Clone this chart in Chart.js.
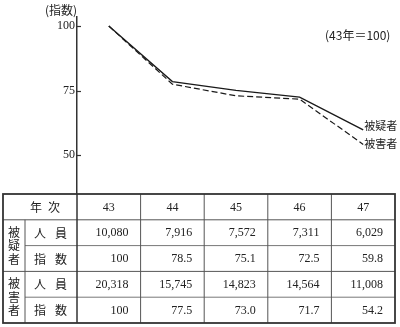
<!DOCTYPE html>
<html>
<head>
<meta charset="utf-8">
<script src="https://cdn.jsdelivr.net/npm/chart.js@4/dist/chart.umd.min.js"></script>
<style>
  html, body { margin: 0; padding: 0; background: #fff; }
  #wrap { width: 400px; height: 327px; }
</style>
</head>
<body>
<div id="wrap"><canvas id="c" width="400" height="327"></canvas></div>
<script>
// 年次（昭和）
const years = ['43', '44', '45', '46', '47'];
// 被疑者：人員・指数
const suspectCount = [10080, 7916, 7572, 7311, 6029];
const suspectIndex = [100, 78.5, 75.1, 72.5, 59.8];
// 被害者：人員・指数
const victimCount = [20318, 15745, 14823, 14564, 11008];
const victimIndex = [100, 77.5, 73.0, 71.7, 54.2];
// 縦軸の目盛
const yTicks = [50, 75, 100];
const seriesNames = ['被疑者', '被害者'];

const SERIF = "'Liberation Serif', 'DejaVu Serif', 'Noto Sans CJK JP', serif";
const JP = "'Noto Sans CJK JP', 'Liberation Serif', serif";
const INK = '#222';

const fmtCount = v => v.toLocaleString('en-US');
const fmtIndex = v => (Number.isInteger(v) && v === 100) ? String(v) : v.toFixed(1);

const decor = {
  id: 'decor',
  beforeDraw(chart) {
    const ctx = chart.ctx;
    ctx.save();
    ctx.fillStyle = '#fff';
    ctx.fillRect(0, 0, chart.width, chart.height);
    ctx.restore();
  },
  afterDraw(chart) {
    const ctx = chart.ctx;
    const ca = chart.chartArea;
    const xs = chart.scales.x;
    const ys = chart.scales.y;
    ctx.save();

    // inward tick stubs on the y axis
    ctx.strokeStyle = '#333';
    ctx.lineWidth = 1.2;
    yTicks.forEach(v => {
      const y = Math.round(ys.getPixelForValue(v)) + 0.5;
      ctx.beginPath();
      ctx.moveTo(ca.left, y);
      ctx.lineTo(ca.left + 4, y);
      ctx.stroke();
    });

    // axis unit and base note
    ctx.fillStyle = INK;
    ctx.textBaseline = 'middle';
    ctx.font = '12px ' + JP;
    ctx.textAlign = 'right';
    ctx.fillText('(指数)', ca.left, 10);
    ctx.textAlign = 'left';
    ctx.fillText('(43年＝100)', 325, 35);

    // series names at the line ends
    ctx.font = '11px ' + JP;
    const last = years.length - 1;
    const xEnd = xs.getPixelForValue(last) + 1;
    ctx.fillText(seriesNames[0], xEnd, ys.getPixelForValue(suspectIndex[last]) - 4);
    ctx.fillText(seriesNames[1], xEnd, ys.getPixelForValue(victimIndex[last]) - 1);

    // data table below the plot
    const centers = years.map((_, i) => xs.getPixelForValue(i));
    const edges = [ca.left];
    for (let i = 0; i < centers.length - 1; i++) edges.push((centers[i] + centers[i + 1]) / 2);
    edges.push(ca.right);

    const L = 3;
    const split = 25;
    const top = ca.bottom;
    const bottom = chart.height - 4;
    const rowH = (bottom - top) / 5;
    const rowY = [0, 1, 2, 3, 4, 5].map(k => top + rowH * k);

    const hLine = (x1, x2, y, w, c) => {
      ctx.beginPath(); ctx.lineWidth = w; ctx.strokeStyle = c;
      ctx.moveTo(x1, y); ctx.lineTo(x2, y); ctx.stroke();
    };
    const vLine = (x, y1, y2, w, c) => {
      ctx.beginPath(); ctx.lineWidth = w; ctx.strokeStyle = c;
      ctx.moveTo(x, y1); ctx.lineTo(x, y2); ctx.stroke();
    };

    // inner rules
    hLine(L, ca.right, rowY[1], 1, '#555');
    hLine(split, ca.right, rowY[2], 1, '#777');
    hLine(L, ca.right, rowY[3], 1, '#555');
    hLine(split, ca.right, rowY[4], 1, '#777');
    vLine(split, rowY[1], bottom, 1, '#555');
    for (let i = 1; i < edges.length - 1; i++) vLine(edges[i], top, bottom, 1, '#555');
    vLine(ca.left, top, bottom, 1.5, '#333');
    // outer frame
    ctx.lineWidth = 1.8;
    ctx.strokeStyle = '#333';
    ctx.strokeRect(L, top, ca.right - L, bottom - top);

    const mid = r => (rowY[r] + rowY[r + 1]) / 2 + 0.5;

    // header row
    ctx.fillStyle = INK;
    ctx.font = '12px ' + JP;
    ctx.textAlign = 'center';
    const hc = (L + ca.left) / 2;
    ctx.fillText('年', hc - 4, mid(0));
    ctx.fillText('次', hc + 14, mid(0));
    ctx.font = '12px ' + SERIF;
    years.forEach((y, i) => ctx.fillText(y, centers[i], mid(0)));

    // row captions
    ctx.font = '12px ' + JP;
    const rc = (split + ca.left) / 2;
    [['人', '員'], ['指', '数'], ['人', '員'], ['指', '数']].forEach((pair, k) => {
      ctx.fillText(pair[0], rc - 11, mid(k + 1));
      ctx.fillText(pair[1], rc + 10, mid(k + 1));
    });

    // vertical group captions
    const gx = (L + split) / 2;
    [[seriesNames[0], rowY[1], rowY[3]], [seriesNames[1], rowY[3], rowY[5]]].forEach(([name, a, b]) => {
      const c = (a + b) / 2;
      [...name].forEach((ch, j) => ctx.fillText(ch, gx, c + (j - 1) * 13.5));
    });

    // values
    ctx.font = '12px ' + SERIF;
    ctx.textAlign = 'right';
    const rows = [
      suspectCount.map(fmtCount),
      suspectIndex.map(fmtIndex),
      victimCount.map(fmtCount),
      victimIndex.map(fmtIndex)
    ];
    rows.forEach((vals, r) => {
      vals.forEach((t, i) => ctx.fillText(t, edges[i + 1] - 12, mid(r + 1)));
    });

    ctx.restore();
  }
};

new Chart(document.getElementById('c'), {
  type: 'line',
  data: {
    labels: years,
    datasets: [
      {
        label: seriesNames[0],
        data: suspectIndex,
        borderColor: '#1a1a1a',
        borderWidth: 1.4,
        pointRadius: 0,
        tension: 0,
        fill: false
      },
      {
        label: seriesNames[1],
        data: victimIndex,
        borderColor: '#1a1a1a',
        borderWidth: 1.2,
        borderDash: [6, 3],
        pointRadius: 0,
        tension: 0,
        fill: false
      }
    ]
  },
  options: {
    responsive: false,
    devicePixelRatio: 1,
    animation: false,
    layout: { padding: { top: 17, bottom: 133, left: 0, right: 5 } },
    plugins: { legend: { display: false }, tooltip: { enabled: false } },
    scales: {
      x: {
        type: 'category',
        offset: true,
        display: false
      },
      y: {
        min: 35,
        max: 103.5,
        afterBuildTicks: s => { s.ticks = yTicks.map(v => ({ value: v })); },
        afterFit: s => { s.width = 77; },
        grid: { display: false, drawTicks: false },
        border: { display: true, color: '#333', width: 1.5 },
        ticks: {
          padding: 2,
          color: INK,
          font: { family: SERIF, size: 12 }
        }
      }
    }
  },
  plugins: [decor]
});
</script>
</body>
</html>
